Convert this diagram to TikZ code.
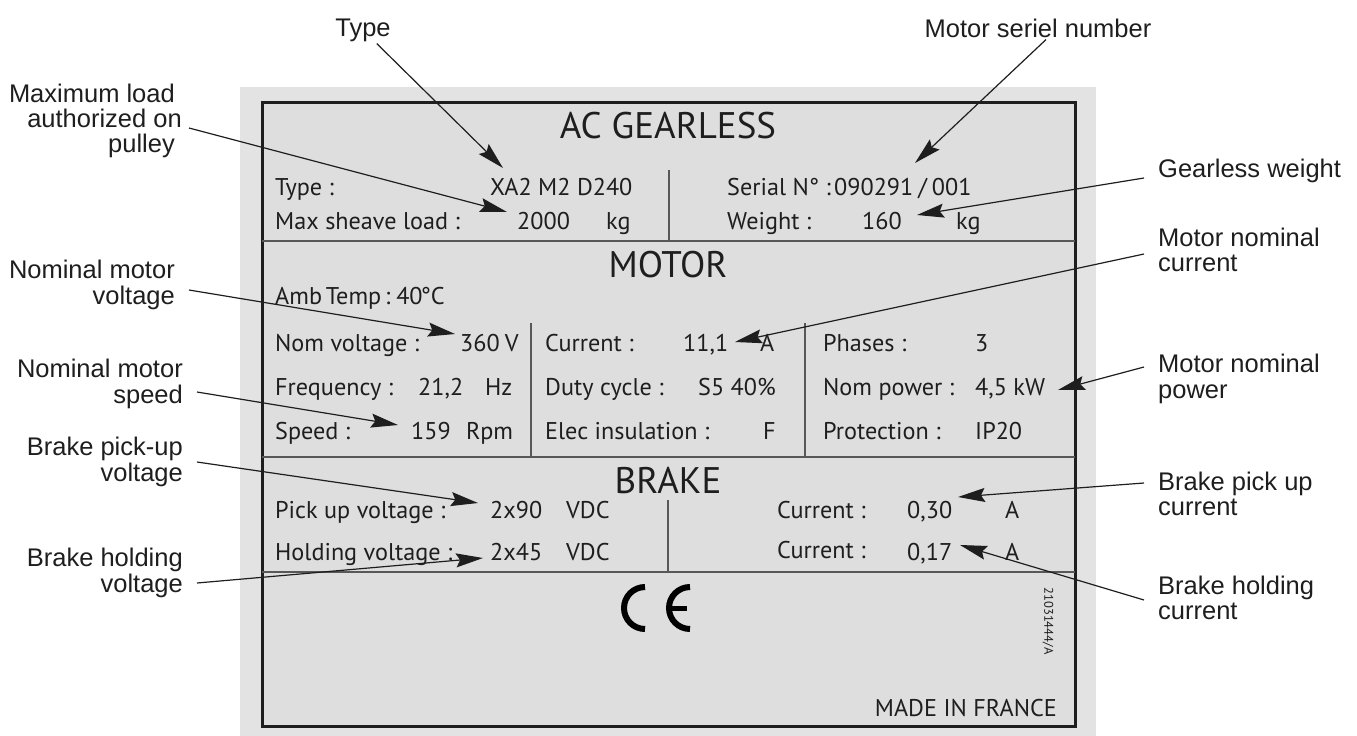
\documentclass[tikz,border=0pt]{standalone}
\usepackage{fontspec}
\setmainfont{Liberation Sans}
\newfontfamily\platefont{PT Sans}
\usetikzlibrary{arrows.meta}
\definecolor{ink}{HTML}{1E1E1E}
\definecolor{panel}{HTML}{DEDEDE}
\definecolor{margin}{HTML}{E3E3E3}
\tikzset{
  callout/.style={font=\fontsize{25.5}{25.3}\selectfont,text=ink,inner sep=0pt,inner xsep=14pt,inner ysep=2pt},
  calloutl/.style={callout,align=right,anchor=east},
  calloutr/.style={callout,align=left,anchor=west},
  pointer/.style={draw=ink,line width=1.2pt,-{Stealth[length=27pt,width=14pt,inset=4pt]}},
  plate/.style={font=\platefont\fontsize{24.2}{24}\selectfont,text=ink,anchor=base west,inner sep=0pt},
  platehead/.style={font=\platefont\fontsize{37}{37}\selectfont,text=ink,anchor=center,inner sep=0pt},
  rule/.style={draw=ink!70!panel,line width=1.6pt},
  cemark/.style={draw=black,line width=6pt}
}
\begin{document}
\begin{tikzpicture}[x=1pt,y=-1pt]
\useasboundingbox (0,0) rectangle (1357,736);
\fill[margin] (240,87) rectangle (1096,736);
\fill[panel] (262,102) rectangle (1075,726);
\draw[ink,line width=3pt] (262,102) rectangle (1075,726);
\draw[rule] (262,241) -- (1075,241);
\draw[rule] (262,457) -- (1075,457);
\draw[rule] (262,572) -- (1075,572);
\draw[rule] (669,170) -- (669,241);
\draw[rule] (531,323) -- (531,457);
\draw[rule] (805,323) -- (805,457);
\draw[rule] (668,500) -- (668,572);

\node[platehead] (headGearless) at (668,126) {AC GEARLESS};
\node[plate] (txtType) at (275,195) {Type :};
\node[plate] (valType) at (490,195) {XA2 M2 D240};
\node[plate] (txtSerial) at (727,195) {Serial N° :};
\node[plate] (valSerial) at (834,195) {\spaceskip=5pt 090291 / 001};
\node[plate] (txtLoad) at (275,229) {Max sheave load :};
\node[plate] (valLoad) at (517,229) {2000};
\node[plate] (unitLoad) at (606,229) {kg};
\node[plate] (txtWeight) at (727,229) {Weight :};
\node[plate] (valWeight) at (862,229) {160};
\node[plate] (unitWeight) at (956,229) {kg};

\node[platehead] (headMotor) at (668,265) {MOTOR};
\node[plate] (txtAmb) at (275,304) {\spaceskip=3.8pt Amb Temp : 40\kern-2pt°C};
\node[plate] (txtVolt) at (275,351) {Nom voltage :};
\node[plate] (valVolt) at (460,351) {\spaceskip=5pt 360 V};
\node[plate] (txtCurr) at (545,351) {Current :};
\node[plate] (valCurr) at (683,351) {11,1};
\node[plate] (unitCurr) at (760,351) {A};
\node[plate] (txtPhase) at (823,351) {Phases :};
\node[plate] (valPhase) at (975,351) {3};
\node[plate] (txtFreq) at (275,395) {Frequency :};
\node[plate] (valFreq) at (418,395) {21,2};
\node[plate] (unitFreq) at (485,395) {Hz};
\node[plate] (txtDuty) at (545,395) {Duty cycle :};
\node[plate] (valDuty) at (698,395) {S5 40\%};
\node[plate] (txtPower) at (823,395) {Nom power :};
\node[plate] (valPower) at (975,395) {4,5 kW};
\node[plate] (txtSpeed) at (275,439) {Speed :};
\node[plate] (valSpeed) at (411,439) {159};
\node[plate] (unitSpeed) at (466,439) {Rpm};
\node[plate] (txtElec) at (545,439) {Elec insulation :};
\node[plate] (valElec) at (763,439) {F};
\node[plate] (txtProt) at (823,439) {Protection :};
\node[plate] (valProt) at (975,439) {IP20};

\node[platehead] (headBrake) at (668,480) {BRAKE};
\node[plate] (txtPick) at (275,518) {Pick up voltage :};
\node[plate] (valPick) at (490,518) {2x90};
\node[plate] (unitPick) at (566,518) {VDC};
\node[plate] (txtPickC) at (777,518) {Current :};
\node[plate] (valPickC) at (907,518) {0,30};
\node[plate] (unitPickC) at (1005,518) {A};
\node[plate] (txtHold) at (275,560) {Holding voltage :};
\node[plate] (valHold) at (490,560) {2x45};
\node[plate] (unitHold) at (566,560) {VDC};
\node[plate] (txtHoldC) at (777,558) {Current :};
\node[plate] (valHoldC) at (907,560) {0,17};
\node[plate] (unitHoldC) at (1005,560) {A};

\draw[cemark] (645,587) arc [start angle=90, end angle=270, radius=21pt];
\draw[cemark] (690,587) arc [start angle=90, end angle=270, radius=21pt];
\draw[black,line width=5pt] (668,608) -- (687,608);
\node[font=\platefont\fontsize{12.6}{12}\selectfont,text=ink,rotate=-90,inner sep=0pt] (txtCode) at (1048,621) {21031444/A};
\node[plate,anchor=base east] (txtFrance) at (1057,716) {MADE IN FRANCE};

\node[callout] (lblType) at (363,30) {Type};
\node[callout] (lblSerial) at (1038,28) {Motor seriel number};
\node[calloutl] (lblLoad) at (189,121) {Maximum load\\authorized on\hspace*{-7pt}\mbox{}\\pulley};
\node[calloutl] (lblVolt) at (189,285) {Nominal motor\\voltage};
\node[calloutl] (lblSpeed) at (197,384) {Nominal motor\\speed};
\node[calloutl] (lblPick) at (197,462) {Brake pick-up\\voltage};
\node[calloutl] (lblHold) at (197,573) {Brake holding\\voltage};
\node[calloutr] (lblWeight) at (1144,171) {Gearless weight};
\node[calloutr] (lblCurr) at (1144,250) {Motor nominal\\current};
\node[calloutr] (lblPower) at (1144,379) {Motor nominal\\power};
\node[calloutr] (lblPickC) at (1144,494) {Brake pick up\\current};
\node[calloutr] (lblHoldC) at (1144,598) {Brake holding\\current};

\coordinate (tipType) at (503,168);
\coordinate (tipSerial) at (915,163);
\coordinate (tipLoad) at (507,212);
\coordinate (tipWeight) at (917,215);
\coordinate (tipVolt) at (455,334);
\coordinate (tipCurr) at (735,342);
\coordinate (tipPower) at (1058,390);
\coordinate (tipSpeed) at (398,425);
\coordinate (tipPick) at (478,503);
\coordinate (tipPickC) at (958,497);
\coordinate (tipHold) at (483,558);
\coordinate (tipHoldC) at (960,545);

\draw[pointer] (lblType) -- (tipType);
\draw[pointer] ([xshift=8pt]lblSerial.south) -- (tipSerial);
\draw[pointer] ([yshift=-7pt]lblLoad.east) -- (tipLoad);
\draw[pointer] ([yshift=-5pt]lblVolt.east) -- (tipVolt);
\draw[pointer] ([yshift=-8pt]lblSpeed.east) -- (tipSpeed);
\draw[pointer] (lblPick.east) -- (tipPick);
\draw[pointer] ([yshift=-10pt]lblHold.east) -- (tipHold);
\draw[pointer] ([yshift=-7pt]lblWeight.west) -- (tipWeight);
\draw[pointer] ([yshift=-4pt]lblCurr.west) -- (tipCurr);
\draw[pointer] ([yshift=12pt]lblPower.west) -- (tipPower);
\draw[pointer] ([yshift=11pt]lblPickC.west) -- (tipPickC);
\draw[pointer] ([yshift=-2pt]lblHoldC.west) -- (tipHoldC);
\end{tikzpicture}
\end{document}
